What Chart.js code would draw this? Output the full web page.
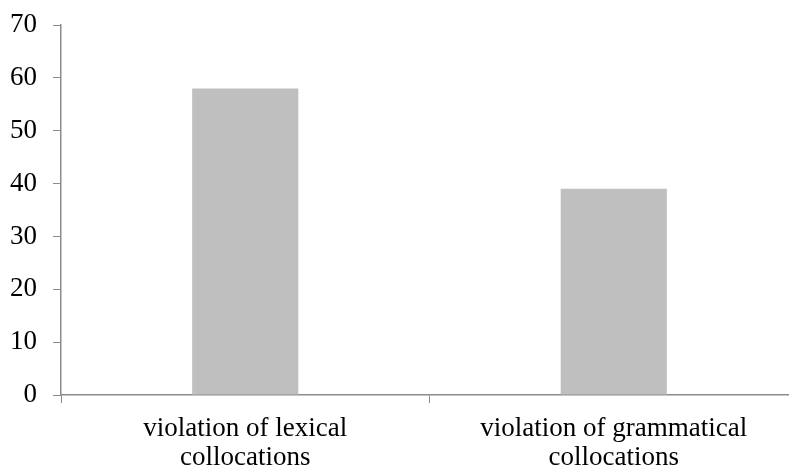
<!DOCTYPE html>
<html>
<head>
<meta charset="utf-8">
<script src="https://cdn.jsdelivr.net/npm/chart.js@4/dist/chart.umd.min.js"></script>
<style>
  html, body { margin: 0; padding: 0; background: #fff; overflow: hidden; }
  #wrap { position: relative; width: 800px; height: 468px; }
</style>
</head>
<body>
<div id="wrap"><canvas id="c"></canvas></div>
<script>
// Collocation violation counts
const categories = [
  ['violation of lexical', 'collocations'],
  ['violation of grammatical', 'collocations']
];
const violationCounts = [58, 39];
const yTicks = [0, 10, 20, 30, 40, 50, 60, 70];

const axisGrey = '#8c8c8c';
const serif = '"Liberation Serif", "Times New Roman", serif';

new Chart(document.getElementById('c'), {
  type: 'bar',
  data: {
    labels: categories,
    datasets: [{
      data: violationCounts,
      backgroundColor: '#bfbfbf',
      borderWidth: 0,
      barPercentage: 0.288,
      categoryPercentage: 1.0
    }]
  },
  options: {
    responsive: true,
    maintainAspectRatio: false,
    animation: false,
    layout: { padding: { left: 0, right: 2, top: 25, bottom: 0 } },
    plugins: { legend: { display: false }, tooltip: { enabled: false } },
    scales: {
      x: {
        afterFit: (s) => { s.height = 73; s.paddingLeft = 0; s.paddingRight = 0; },
        grid: { drawOnChartArea: false, drawTicks: true, tickLength: 8, color: axisGrey, offset: true },
        border: { color: axisGrey, width: 1.5 },
        ticks: { color: '#000', font: { family: serif, size: 27, lineHeight: 1.09 }, padding: 11, maxRotation: 0, autoSkip: false }
      },
      y: {
        min: yTicks[0],
        max: yTicks[yTicks.length - 1],
        afterBuildTicks: (scale) => { scale.ticks = yTicks.map(v => ({ value: v })); },
        afterFit: (s) => { s.width = 61; s.paddingTop = 0; s.paddingBottom = 0; },
        grid: { drawOnChartArea: false, drawTicks: true, tickLength: 8, color: axisGrey },
        border: { color: axisGrey, width: 1.5 },
        ticks: { color: '#000', font: { family: serif, size: 27 }, padding: 16 }
      }
    }
  }
});
</script>
</body>
</html>
